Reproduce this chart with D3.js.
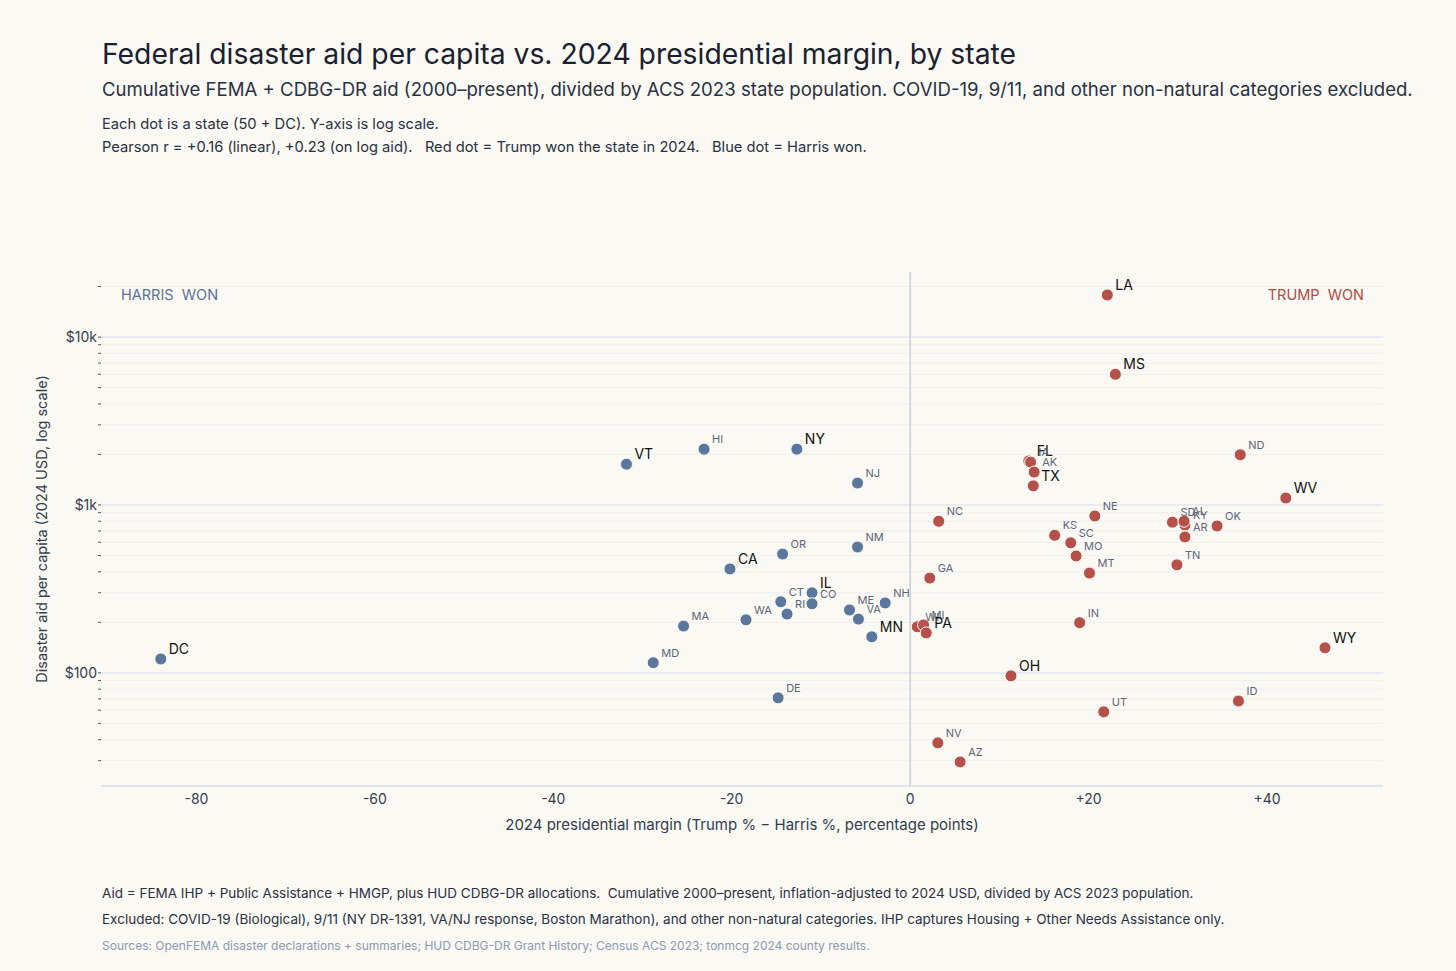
<!DOCTYPE html>
<html><head><meta charset="utf-8">
<script src="https://cdn.jsdelivr.net/npm/d3@7"></script>
<style>body{margin:0;background:#fbf9f4;font-family:Inter,"Open Sans",sans-serif}</style>
</head><body><svg id="c" width="1456" height="971"></svg>
<script>
const states = ["LA","MS","FL","IA","AK","TX","ND","WV","NC","NE","KS","SD","KY","AL","AR","OK","SC","MO","MT","TN","GA","IN","WI","MI","PA","WY","OH","ID","UT","NV","AZ",
"VT","HI","NY","NJ","OR","NM","CA","IL","CT","CO","NH","ME","VA","WA","RI","MA","MN","DC","MD","DE"];
const margins = [22.1,23.0,13.3,13.5,13.9,13.8,37.0,42.1,3.2,20.7,16.2,29.4,30.8,30.7,30.8,34.4,18.0,18.6,20.1,29.9,2.2,19.0,0.8,1.5,1.8,46.5,11.3,36.8,21.7,3.1,5.6,
-31.8,-23.1,-12.7,-5.9,-14.3,-5.9,-20.2,-11.0,-14.5,-11.0,-2.8,-6.8,-5.8,-18.4,-13.8,-25.4,-4.3,-84.0,-28.8,-14.8];
const aid = [17800,6000,1830,1800,1570,1300,1990,1100,800,860,660,790,760,800,645,750,595,497,393,440,367,199,188,193,173,141,96,68,58.6,38.3,29.5,
1750,2150,2150,1350,510,562,416,300,265,258,261,237,209,207,224,190,164,121,115,71];
const bigLabels = ["LA","MS","FL","TX","WV","NY","VT","CA","IL","DC","MN","PA","OH","WY"];
const xTicks = [-80,-60,-40,-20,0,20,40];
const yTicks = [100,1000,10000];
const yTickLabels = ["$100","$1k","$10k"];

const svg = d3.select("#c");
const L=101,R=1383,T=272,B=786;
const x = d3.scaleLinear().domain([-90.7,53]).range([L,R]);
const y = d3.scaleLog().domain([21.2,24400]).range([B,T]);
svg.append("rect").attr("width",1456).attr("height",971).attr("fill","#fbf9f4");

const minor=[];
for(let d=10;d<=10000;d*=10) for(let m=1;m<=9;m++){const v=d*m; if(v>=21.2&&v<=24400) minor.push(v);}
svg.append("g").selectAll("line").data(minor).join("line")
 .attr("x1",L).attr("x2",R).attr("y1",d=>y(d)).attr("y2",d=>y(d))
 .attr("stroke",d=>yTicks.includes(d)?"#dfe4ee":"#f0efec").attr("stroke-width",d=>yTicks.includes(d)?1.2:1);
svg.append("g").selectAll("line").data(minor).join("line")
 .attr("x1",L-3).attr("x2",L).attr("y1",d=>y(d)).attr("y2",d=>y(d)).attr("stroke","#555");
svg.append("g").selectAll("text").data(yTicks).join("text")
 .attr("x",L-4).attr("y",d=>y(d)+5).attr("text-anchor","end").attr("font-size",14).attr("fill","#333d4d")
 .text((d,i)=>yTickLabels[i]);
svg.append("line").attr("x1",L).attr("x2",R).attr("y1",B).attr("y2",B).attr("stroke","#c5cfdd");
svg.append("line").attr("x1",x(0)).attr("x2",x(0)).attr("y1",T).attr("y2",B).attr("stroke","#c5cfdd").attr("stroke-width",1.5);
svg.append("g").selectAll("text").data(xTicks).join("text")
 .attr("x",d=>x(d)).attr("y",B+18).attr("text-anchor","middle").attr("font-size",14).attr("fill","#333d4d")
 .text(d=>d>0?"+"+d:d);

svg.append("text").attr("x",742).attr("y",830).attr("text-anchor","middle").attr("font-size",15).attr("fill","#333d4d")
 .text("2024 presidential margin (Trump % \u2212 Harris %, percentage points)");
svg.append("text").attr("transform","translate(47,529) rotate(-90)").attr("text-anchor","middle").attr("font-size",14.5).attr("fill","#333d4d")
 .text("Disaster aid per capita (2024 USD, log scale)");

svg.append("text").attr("x",121).attr("y",300).attr("font-size",14.5).attr("fill","#5a7296").attr("xml:space","preserve").text("HARRIS  WON");
svg.append("text").attr("x",1364).attr("y",300).attr("text-anchor","end").attr("font-size",14.5).attr("fill","#b04a45").attr("xml:space","preserve").text("TRUMP  WON");

const data = states.map((s,i)=>({s,m:margins[i],a:aid[i]}));
svg.append("g").selectAll("circle").data(data).join("circle")
 .attr("cx",d=>x(d.m)).attr("cy",d=>y(d.a)).attr("r",6)
 .attr("fill",d=>d.m>0?"#b5504b":"#5b779e").attr("stroke","#fbf9f4").attr("stroke-width",1);
svg.append("g").selectAll("text").data(data).join("text")
 .attr("x",d=>x(d.m)+8).attr("y",d=>y(d.a)-(bigLabels.includes(d.s)?5:6))
 .attr("font-size",d=>bigLabels.includes(d.s)?14:11).attr("fill",d=>bigLabels.includes(d.s)?"#111":"#5c6677")
 .text(d=>d.s);

svg.append("text").attr("x",102).attr("y",64).attr("font-size",28.3).attr("fill","#1a2030").text("Federal disaster aid per capita vs. 2024 presidential margin, by state");
svg.append("text").attr("x",102).attr("y",96).attr("font-size",18.6).attr("fill","#2a3142").text("Cumulative FEMA + CDBG-DR aid (2000\u2013present), divided by ACS 2023 state population. COVID-19, 9/11, and other non-natural categories excluded.");
svg.append("text").attr("x",102).attr("y",129).attr("font-size",14.7).attr("fill","#2a3142").text("Each dot is a state (50 + DC). Y-axis is log scale.");
svg.append("text").attr("x",102).attr("y",152).attr("font-size",14.7).attr("fill","#2a3142").attr("xml:space","preserve").text("Pearson r = +0.16 (linear), +0.23 (on log aid).   Red dot = Trump won the state in 2024.   Blue dot = Harris won.");
svg.append("text").attr("x",102).attr("y",898).attr("font-size",13.5).attr("fill","#2a3142").attr("xml:space","preserve").text("Aid = FEMA IHP + Public Assistance + HMGP, plus HUD CDBG-DR allocations.  Cumulative 2000\u2013present, inflation-adjusted to 2024 USD, divided by ACS 2023 population.");
svg.append("text").attr("x",102).attr("y",924).attr("font-size",13.5).attr("fill","#2a3142").text("Excluded: COVID-19 (Biological), 9/11 (NY DR-1391, VA/NJ response, Boston Marathon), and other non-natural categories. IHP captures Housing + Other Needs Assistance only.");
svg.append("text").attr("x",102).attr("y",950).attr("font-size",12).attr("fill","#8a9bb3").text("Sources: OpenFEMA disaster declarations + summaries; HUD CDBG-DR Grant History; Census ACS 2023; tonmcg 2024 county results.");
</script></body></html>
